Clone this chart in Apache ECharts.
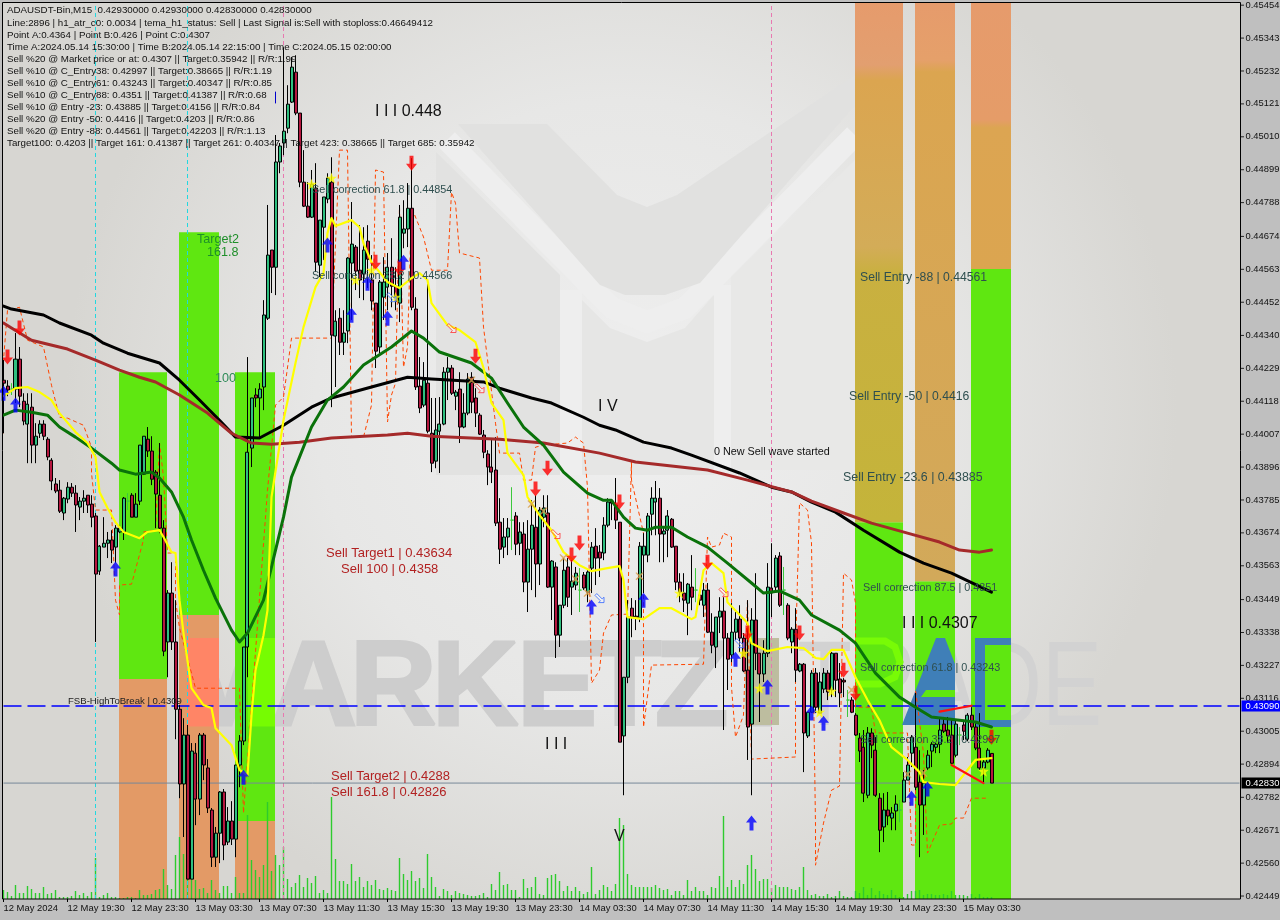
<!DOCTYPE html>
<html><head><meta charset="utf-8">
<script src="https://cdn.jsdelivr.net/npm/echarts@6/dist/echarts.min.js"></script>
<style>html,body{margin:0;padding:0;background:#bfbfbf}#c{width:1280px;height:920px}</style>
</head><body><div id="c"></div>
<script>
// All prices below are in points of 0.00001. Candle rows: [open, close, low, high]
const candlesA=[[44189,44179,44010,44257],[44169,44156,44135,44189],[44159,44159,44139,44179],[44159,44260,44112,44348],[44260,44135,44098,44301],[44118,44051,44037,44145],[44041,44108,43909,44145],[44098,43970,43909,44145],[43970,44000,43909,44044],[44010,44041,43994,44054],[44041,44000,43987,44054],[43990,43930,43919,43997],[43919,43849,43818,43926],[43839,43815,43808,43859],[43818,43747,43741,43852],[43741,43791,43717,43795],[43788,43828,43774,43845],[43828,43808,43795,43842],[43808,43768,43677,43835],[43761,43781,43717,43795],[43781,43791,43741,43818],[43801,43768,43741,43801],[43771,43727,43693,43801],[43731,43535,43306,43741],[43545,43629,43532,43633],[43626,43639,43626,43727],[43639,43650,43589,43677],[43650,43616,43572,43683],[43626,43690,43572,43700],[43677,43690,43673,43700],[43677,43791,43650,43795],[43781,43781,43751,43808],[43801,43727,43727,43808],[43727,43771,43727,43808],[43781,43970,43768,43970],[43872,44000,43869,44000],[43990,43950,43930,44031],[43950,43855,43835,44000],[43879,43805,43690,43886],[43801,43690,43673,43977],[43690,43275,43258,43717],[43306,43471,43187,43481],[43471,43306,43279,43575],[43306,43079,42978,43447],[43079,42827,42779,43093],[42827,42992,42648,43049],[42992,42506,42506,43026],[42506,42938,42506,42965],[42931,42776,42688,42965],[42776,42992,42722,42999],[42992,42891,42840,42999],[42881,42746,42729,42911],[42739,42580,42547,42746],[42580,42661,42547,42682],[42661,42800,42560,42803],[42800,42621,42570,42810],[42631,42702,42621,42749],[42702,42641,42621,42769],[42641,42891,42580,42891],[42891,42972,42816,42992],[42972,43289,42958,43289],[43289,43946,43187,44267]];
const candlesB=[[43960,44129,43896,44129],[44139,44129,44098,44162],[44129,44159,43997,44179],[44166,44409,44088,44459],[44398,44611,44392,44780],[44628,44570,44483,44628],[44570,44925,44476,45016],[44925,44979,44887,44989],[44989,45029,44948,45312],[45039,45120,45022,45184],[45127,45245,45124,45279],[45228,45090,45083,45285],[45090,44857,44840,45090],[44857,44776,44773,44965],[44776,44739,44736,44857],[44739,44850,44736,44898],[44837,44587,44554,44921],[44577,44729,44537,44729],[44705,44807,44594,44807],[44800,44871,44786,44887],[44857,44341,44098,44941],[44338,44388,44166,44425],[44398,44317,44274,44432],[44317,44348,44274,44425],[44355,44601,44314,44604],[44584,44648,44392,44790],[44638,44557,44493,44645],[44560,44527,44466,44712],[44547,44628,44459,44705],[44658,44597,44500,44712],[44527,44456,44425,44611],[44449,44287,44230,44449],[44301,44520,44280,44527],[44469,44520,44392,44604],[44503,44570,44425,44618],[44570,44506,44435,44668],[44506,44456,44425,44570],[44449,44739,44385,44780],[44685,44699,44634,44796],[44699,44769,44638,44854],[44769,44435,44425,44938],[44429,44166,44156,44469],[44169,44095,44078,44267],[44105,44189,44098,44250],[44179,44017,44010,44516],[44010,43909,43879,44129],[43916,44021,43892,44129],[44017,44041,43876,44132],[44041,44216,44037,44233],[44216,44230,44122,44267],[44230,44145,44139,44240],[44135,44149,44088,44156],[44159,44031,43977,44216],[44031,44078,44027,44145],[44078,44193,44071,44213],[44199,44115,44078,44216],[44129,44078,44031,44162],[44071,44007,44004,44078],[44004,43946,43926,44021],[43940,43896,43835,43953],[43896,43879,43842,43994],[43886,43707,43697,43997]];
const candlesC=[[43710,43619,43569,43791],[43626,43660,43589,43724],[43660,43690,43599,43724],[43717,43717,43616,43828],[43731,43636,43599,43744],[43639,43677,43599,43710],[43670,43508,43474,43710],[43508,43619,43407,43717],[43619,43700,43481,43784],[43693,43569,43457,43801],[43569,43751,43498,43761],[43727,43758,43693,43801],[43741,43491,43488,43801],[43491,43579,43380,43582],[43559,43329,43252,43575],[43329,43430,43289,43430],[43430,43548,43420,43589],[43559,43457,43424,43589],[43491,43511,43397,43582],[43498,43538,43481,43559],[43481,43481,43407,43555],[43532,43488,43481,43542],[43474,43542,43440,43548],[43555,43626,43471,43643],[43629,43589,43498,43690],[43609,43589,43525,43633],[43606,43700,43582,43727],[43700,43778,43693,43791],[43781,43774,43717,43784],[43768,43717,43687,43859],[43710,42968,42968,43710],[42989,43187,42789,43187],[43187,43390,43167,43447],[43420,43390,43322,43454],[43393,43387,43346,43447],[43387,43629,43373,43643],[43599,43629,43471,43673],[43599,43731,43575,43741],[43737,43791,43666,43828],[43778,43791,43666,43849],[43791,43670,43575,43825],[43670,43680,43575,43693],[43683,43731,43592,43751],[43720,43626,43623,43724],[43629,43508,43481,43629],[43508,43474,43440,43538],[43471,43447,43407,43538],[43437,43501,43329,43505],[43491,43457,43413,43599],[43481,43481,43440,43555],[43464,43447,43430,43471],[43430,43481,43390,43505],[43481,43339,43336,43505],[43339,43295,43268,43403],[43289,43390,43218,43390],[43390,43410,43336,43457],[43410,43319,43009,43457],[43319,43248,43144,43336],[43262,43339,43238,43437],[43339,43383,43312,43407],[43383,43319,43272,43430],[43319,43208,43204,43336]];
const candlesD=[[43211,43019,42908,43447],[43029,43380,42789,43420],[43380,43268,43211,43538],[43268,43198,43036,43268],[43198,43268,43171,43312],[43268,43491,43255,43572],[43488,43471,43390,43639],[43491,43589,43481,43599],[43596,43430,43424,43609],[43481,43481,43397,43559],[43430,43319,43312,43437],[43306,43349,43268,43356],[43349,43211,43171,43420],[43208,43231,43204,43235],[43231,42999,42867,43235],[42989,43069,42982,43069],[43069,43201,43066,43211],[43201,43086,43066,43218],[43066,43171,43066,43204],[43147,43201,43134,43218],[43201,43137,43110,43211],[43144,43268,43120,43272],[43268,43177,43120,43268],[43181,43134,43086,43235],[43177,43171,43120,43184],[43110,43110,43053,43144],[43110,43069,43066,43120],[43059,42992,42989,43066],[42982,42938,42901,42999],[42951,42796,42766,43009],[42789,42999,42779,43019],[42999,42958,42914,43015],[42941,42789,42783,42985],[42779,42671,42597,42796],[42682,42739,42631,42796],[42739,42719,42688,42800],[42712,42729,42671,42749],[42736,42759,42671,42789],[42739,42739,42698,42773],[42766,42840,42766,42867],[42840,42891,42840,42918],[42931,42985,42884,42992],[42951,42816,42806,43134],[42833,42756,42580,42941],[42756,42830,42655,42874],[42881,42924,42874,42941],[42938,42961,42884,42968],[42951,42961,42931,42965],[42961,43009,42931,43053],[43029,43005,42999,43053],[43009,42989,42965,43053],[42992,42897,42891,43042],[42924,43029,42917,43042],[42992,42992,42958,43019],[43026,43005,42975,43042],[42978,43059,42971,43066],[43059,43019,43009,43086],[43019,42948,42941,43032],[42948,42881,42874,43066],[42881,42901,42830,42908],[42901,42941,42897,42948],[42930,42830,42830,42930]];
const dojiCandles=[2,31,127,144,173,195,211,224,239];
const volumes=[9,7,3,14,6,6,13,10,6,6,12,5,6,9,2,2,2,3,8,4,6,3,7,41,2,4,6,2,2,1,1,2,2,1,9,4,4,5,9,10,30,14,10,44,62,45,43,24,19,10,11,6,19,9,6,13,13,6,22,6,6,84,39,29,22,34,97,28,44,34,52,20,12,16,24,12,21,16,23,6,9,6,102,40,18,18,15,35,18,22,12,18,14,19,10,9,11,9,8,41,25,19,28,18,21,11,45,22,12,3,10,8,4,8,6,5,4,3,3,4,6,2,15,9,27,14,15,9,9,2,20,11,12,22,5,4,21,24,25,18,8,13,8,12,8,5,7,32,5,9,14,12,8,15,81,74,25,14,12,12,12,12,12,14,11,9,10,4,8,8,4,19,8,12,8,8,4,12,11,23,83,12,19,12,19,15,34,44,30,18,20,20,11,14,12,12,12,10,9,12,32,9,4,5,3,3,5,2,3,8,3,2,2,8,6,12,4,11,4,8,5,4,9,4,2,2,5,8,8,9,4,5,5,4,4,5,4,8,4,4,4,3,5,2,5,2,2,2];
const yellowLine=[[0,44135],[3,44162],[6,44166],[9,44149],[12,44122],[14,44078],[18,44014],[21,43977],[23,43930],[24,43812],[26,43758],[28,43710],[30,43677],[34,43656],[36,43677],[39,43683],[40,43660],[42,43609],[43,43606],[44,43447],[45,43336],[47,43150],[50,43093],[52,43083],[53,43015],[57,42958],[59,42874],[61,42857],[62,43059],[63,43211],[65,43329],[66,43413],[67,43795],[70,44054],[73,44247],[75,44368],[78,44503],[80,44550],[81,44685],[82,44736],[83,44709],[87,44729],[89,44705],[90,44651],[92,44587],[96,44520],[99,44500],[102,44533],[104,44550],[106,44527],[107,44449],[111,44375],[114,44358],[118,44317],[120,44230],[122,44112],[125,44054],[126,43943],[130,43869],[131,43795],[134,43734],[137,43683],[140,43609],[144,43565],[147,43545],[151,43555],[154,43562],[155,43515],[156,43390],[160,43383],[164,43420],[167,43420],[172,43383],[173,43390],[175,43548],[177,43572],[180,43538],[181,43440],[186,43370],[187,43302],[191,43275],[196,43289],[200,43285],[203,43252],[205,43248],[207,43279],[210,43279],[213,43187],[216,43110],[219,43042],[222,42951],[226,42908],[229,42867],[230,42833],[234,42827],[238,42823],[241,42874],[243,42908],[247,42914]];
const greenLine=[[0,44071],[3,44088],[7,44081],[11,44071],[14,44031],[18,43997],[22,43960],[27,43909],[29,43886],[33,43872],[37,43879],[39,43859],[42,43812],[45,43727],[47,43650],[50,43548],[53,43454],[57,43346],[59,43306],[61,43336],[65,43447],[67,43559],[70,43727],[72,43862],[77,44031],[81,44122],[85,44166],[90,44240],[97,44301],[102,44355],[105,44331],[109,44284],[117,44247],[122,44196],[126,44112],[130,44031],[135,43970],[140,43879],[146,43808],[150,43784],[152,43784],[155,43727],[158,43690],[161,43683],[163,43693],[167,43693],[171,43660],[176,43626],[181,43572],[187,43505],[190,43471],[194,43478],[199,43447],[202,43397],[209,43346],[213,43302],[218,43201],[224,43120],[228,43086],[232,43053],[239,43042],[243,43036],[247,43019]];
const blackLine=[[0,44439],[2,44429],[10,44409],[14,44382],[22,44341],[25,44314],[31,44280],[39,44247],[44,44189],[49,44122],[54,44054],[58,43997],[64,43994],[70,44037],[77,44098],[82,44129],[92,44166],[101,44199],[107,44193],[120,44183],[124,44162],[132,44129],[137,44112],[145,44064],[149,44037],[153,44021],[160,43980],[167,43960],[172,43936],[184,43876],[192,43828],[197,43812],[202,43778],[208,43744],[215,43683],[224,43609],[230,43572],[237,43538],[247,43474]];
const brownLine=[[0,44382],[2,44365],[7,44324],[16,44294],[23,44257],[29,44223],[34,44199],[38,44183],[44,44139],[51,44078],[57,44010],[62,43977],[67,43973],[74,43980],[82,43994],[96,44004],[101,44010],[107,44000],[124,43990],[135,43977],[149,43943],[158,43913],[176,43886],[186,43852],[197,43812],[202,43781],[210,43741],[217,43707],[226,43673],[234,43643],[239,43616],[244,43609],[247,43616]];
const orangeLine=[[0,44010],[0,44257],[1,44425],[4,44435],[6,44324],[10,44301],[12,44172],[14,44064],[16,44061],[20,44037],[22,43963],[22,43876],[23,43751],[27,43751],[28,43447],[29,43397],[29,43498],[32,43501],[35,43650],[35,43677],[38,43683],[39,43977],[40,43862],[41,43606],[43,43606],[43,43447],[44,43353],[48,43150],[59,43150],[60,42729],[64,43454],[66,43818],[68,44105],[70,44132],[72,44331],[82,44331],[84,44965],[86,44965],[87,43997],[90,43997],[92,44105],[93,44898],[95,44891],[96,44048],[97,44139],[98,44179],[99,44773],[100,44233],[101,44301],[102,44773],[105,44672],[107,44560],[111,44560],[112,44823],[113,44786],[114,44618],[119,44601],[120,44368],[123,44044],[124,43943],[129,43943],[130,43852],[132,43852],[133,43963],[135,43970],[141,43977],[143,43997],[145,43977],[146,43828],[147,43167],[149,43211],[150,43336],[152,43397],[156,43400],[157,43919],[157,43852],[160,43673],[160,43086],[160,43019],[162,43228],[175,43231],[176,43660],[177,43626],[179,43633],[180,43673],[182,43660],[182,43154],[183,42985],[185,43059],[186,43447],[187,42911],[198,42918],[198,43268],[199,43775],[201,43751],[202,43640],[203,42688],[203,42553],[205,42695],[207,42806],[209,42820],[210,43538],[212,43515],[213,43437],[213,43086],[217,43086],[218,42999],[226,42999],[227,42621],[228,42621],[228,43144],[230,42931],[231,42594],[234,42688],[237,42692],[238,42712],[240,42712],[242,42779],[246,42779]];
const redTrendA=[[234,43071],[242,43091]];
const redTrendB=[[237,42891],[245,42830]];
const blueTick=[[68,45161],[68,45124]];
const sellArrows=[[1,44267],[4,44365],[93,44587],[99,44567],[102,44921],[118,44270],[136,43892],[133,43822],[144,43640],[142,43599],[154,43778],[176,43575],[186,43336],[199,43336],[210,43211],[213,43133],[247,42985]];
const buyArrows=[[0,44145],[3,44105],[28,43552],[60,42850],[81,44645],[91,44516],[87,44408],[96,44398],[100,44587],[147,43424],[160,43447],[183,43248],[191,43154],[187,42695],[202,43066],[205,43032],[227,42779],[231,42810]];
const stars=[[77,44850],[82,44871],[88,44527],[92,44560],[98,44469],[169,43471],[185,43268],[189,43150],[204,43069],[207,43140],[245,42870]];
const crosses=[[132,43771],[135,43747],[140,43589],[143,43518],[146,43471],[159,43528],[117,44189],[212,43144],[226,42860],[230,42864]];
const hollowSell=[[112,44365],[119,44162],[138,43670],[180,43474]];
const hollowBuy=[[149,43454],[184,43302],[97,44469]];
// Zones: [first bar edge, last bar edge, top price, bottom price]
const greenZones=[[29.375,41.375,44216,43181],[44.375,54.375,44688,43397],[58.375,68.375,44216,42702],[213.375,225.375,43710,42439],[228.375,238.375,43511,42439],[242.375,252.375,44564,42439]];
const orangeZones=[[29.375,41.375,43181,42439],[44.375,54.375,43397,42439],[58.375,68.375,42702,42439]];
const upperZones=[[213.375,225.375,45463,43710],[228.375,238.375,45463,43511],[242.375,252.375,45463,44564]];
const accentZones=[[46.375,54.375,43319,43021],[61.625,68.375,43319,43021],[185.875,194.375,43319,43026]];
const priceTicks=[0.45454,0.45343,0.45232,0.45121,0.4501,0.44899,0.44788,0.44674,0.44563,0.44452,0.4434,0.44229,0.44118,0.44007,0.43896,0.43785,0.43674,0.43563,0.43449,0.43338,0.43227,0.43116,0.43005,0.42894,0.42782,0.42671,0.4256,0.42449];
const timeTicks=['12 May 2024','12 May 19:30','12 May 23:30','13 May 03:30','13 May 07:30','13 May 11:30','13 May 15:30','13 May 19:30','13 May 23:30','14 May 03:30','14 May 07:30','14 May 11:30','14 May 15:30','14 May 19:30','14 May 23:30','15 May 03:30'];
const infoLines=['ADAUSDT-Bin,M15  0.42930000 0.42930000 0.42830000 0.42830000','Line:2896 | h1_atr_c0: 0.0034 | tema_h1_status: Sell | Last Signal is:Sell with stoploss:0.46649412','Point A:0.4364 | Point B:0.426 | Point C:0.4307','Time A:2024.05.14 15:30:00 | Time B:2024.05.14 22:15:00 | Time C:2024.05.15 02:00:00','Sell %20 @ Market price or at: 0.4307 || Target:0.35942 || R/R:1.99','Sell %10 @ C_Entry38: 0.42997 || Target:0.38665 || R/R:1.19','Sell %10 @ C_Entry61: 0.43243 || Target:0.40347 || R/R:0.85','Sell %10 @ C_Entry88: 0.4351 || Target:0.41387 || R/R:0.68','Sell %10 @ Entry -23: 0.43885 || Target:0.4156 || R/R:0.84','Sell %20 @ Entry -50: 0.4416 || Target:0.4203 || R/R:0.86','Sell %20 @ Entry -88: 0.44561 || Target:0.42203 || R/R:1.13','Target100: 0.4203 || Target 161: 0.41387 || Target 261: 0.40347 || Target 423: 0.38665 || Target 685: 0.35942'];
const FSB_PRICE=0.4309, LAST_PRICE=0.4283;
const priceLineEnds=[0,309];
const notes=[['I I I 0.448',375,112,16,'#111'],['I V',598,407,16,'#111'],['I I I',545,745,16,'#111'],['V',614,837,16,'#111'],['I I I 0.4307',902,624,16,'#111'],['0 New Sell wave started',714,452,10.8,'#111'],
['Sell Target1 | 0.43634',326,553,13,'#b22222'],['Sell 100 | 0.4358',341,569,13,'#b22222'],['Sell Target2 | 0.4288',331,776,13,'#b22222'],['Sell 161.8 | 0.42826',331,792,13,'#b22222'],
['Target2',197,240,12.6,'#1f8f2a'],['161.8',207,253,12.6,'#1f8f2a'],['100',215,379,12.6,'#2e8b57'],['FSB-HighToBreak | 0.4309',68,701,9.6,'#222'],
['Sell correction 61.8 | 0.44854',312,190,10.8,'#2f4f4f'],['Sell correction 38.2 | 0.44566',312,276,10.8,'#2f4f4f'],['Sell Entry -88 | 0.44561',860,278,12.2,'#2f4f4f'],['Sell Entry -50 | 0.4416',849,397,12.2,'#2f4f4f'],['Sell Entry -23.6 | 0.43885',843,478,12.4,'#2f4f4f'],['Sell correction 87.5 | 0.4351',863,588,10.8,'#2f4f4f'],['Sell correction 61.8 | 0.43243',860,668,10.8,'#2f4f4f'],['Sell correction 38.2 | 0.42997',860,740,10.8,'#2f4f4f']];
const brandLetters=[['M',175],['A',270],['R',350],['K',432],['E',517],['T',588],['Z',655],['I',745]];
const cyanMarkers=[23.5,46.5];
const pinkMarkers=[70.5,192.5];

const p=v=>v/1e5;
const pts=a=>a.map(d=>[d[0],p(d[1])]);
const candleRows=[...candlesA,...candlesB,...candlesC,...candlesD];
const BAR_SLOTS=310;
const cats=Array.from({length:BAR_SLOTS},(_,i)=>String(i));
const UI='"Liberation Sans",Arial,sans-serif';
const showTick=i=>i%16===0&&i/16<timeTicks.length;
const candleData=candleRows.map((r,i)=>{const v=r.map(p);return dojiCandles.includes(i)?{value:v,itemStyle:{borderColor:'#3cc83c',borderColor0:'#3cc83c'}}:v;});
const UP='path://M5 0 L10 6.5 L6.8 6.5 L6.8 14 L3.2 14 L3.2 6.5 L0 6.5 Z';
const DOWN='path://M5 14 L10 7.5 L6.8 7.5 L6.8 0 L3.2 0 L3.2 7.5 L0 7.5 Z';
const STAR='path://M5 0 L6.2 3.6 L10 3.6 L7 5.9 L8.1 9.6 L5 7.4 L1.9 9.6 L3 5.9 L0 3.6 L3.8 3.6 Z';
const CROSS='path://M1 0 L5 3.2 L9 0 L10 1 L6.3 5 L10 9 L9 10 L5 6.8 L1 10 L0 9 L3.7 5 L0 1 Z';
const HOLLOW='path://M0 2 L2 0 L8 6 L10 4 L10 10 L4 10 L6 8 Z';

const poly=(points,fill,z)=>({type:'polygon',silent:true,z,shape:{points},style:{fill}});
const band=(points,w)=>({type:'polyline',silent:true,z:0.05,shape:{points},style:{fill:'none',stroke:'#eeeeee',lineWidth:w}});
const background=[
 {type:'rect',silent:true,z:0,shape:{x:2,y:2.5,width:1238.6,height:896.5},style:{fill:{type:'radial',x:0.5,y:0.45,r:0.62,colorStops:[{offset:0,color:'#efefef'},{offset:0.55,color:'#e7e7e6'},{offset:1,color:'#d7d6d2'}]}}},
 band([[447,140],[612,308],[647,322],[685,308],[855,135]],22),
 band([[571,290],[571,475]],22),
 band([[722,285],[722,470]],18),
 poly([[436,152],[560,275],[560,475],[436,475]],'#e2e2e1',0.1),
 poly([[582,300],[610,328],[647,342],[685,328],[714,295],[714,475],[582,475]],'#e6e6e5',0.1),
 poly([[731,277],[855,160],[855,470],[731,470]],'#e8e8e7',0.1),
 poly([[458,124],[547,124],[617,195],[647,207],[677,195],[855,75],[855,105],[700,283],[665,295],[625,295],[600,285]],'#e1e1e0',0.1),
 ...brandLetters.map(l=>({type:'text',silent:true,z:0.2,x:l[1],y:752,style:{text:l[0],font:'bold 120px "Liberation Sans"',fill:'#cdcdcd',stroke:'#cdcdcd',lineWidth:3,verticalAlign:'bottom'}})),
 {type:'text',silent:true,z:0.2,x:797,y:752,scaleX:0.75,style:{text:'TRADE',font:'120px "Liberation Sans"',fill:'#d2d2d2',verticalAlign:'bottom'}},
 poly([[945,638],[955,664],[955,690],[926,690],[921,697],[955,697],[955,725],[902,725],[936,638]],'#3f7fb8',1.5),
 poly([[975,638],[1011,638],[1011,645],[985,645],[985,720],[1011,720],[1011,727],[975,727]],'#3f7fb8',1.5),
 {type:'polyline',silent:true,z:1.5,shape:{points:[[855,641],[885,641],[895,647],[900,662],[895,677],[880,684],[855,684]]},style:{fill:'none',stroke:'#78fb06',lineWidth:7}}
];
const frame={type:'rect',silent:true,z:30,shape:{x:2.5,y:2.5,width:1238,height:896.5},style:{fill:'none',stroke:'#000',lineWidth:1}};
const textEls=[...infoLines.map((t,i)=>({type:'text',silent:true,z:20,style:{text:t,x:7,y:10.5+(i===0?0:1+12*i),font:'9.75px '+UI,fill:'#111',verticalAlign:'middle'}})),
 ...notes.map(n=>({type:'text',silent:true,z:20,style:{text:n[0],x:n[1],y:n[2],font:n[3]+'px '+UI,fill:n[4],verticalAlign:'middle'}}))];

function zoneItem(colorFn){return (params,api)=>{const a=api.coord([api.value(0),api.value(2)]),b=api.coord([api.value(1),api.value(3)]);return {type:'rect',shape:{x:a[0],y:a[1],width:b[0]-a[0],height:b[1]-a[1]},style:{fill:colorFn(params.dataIndex)}};};}
const vg=s=>new echarts.graphic.LinearGradient(0,0,0,1,s.map(([offset,color])=>({offset,color})));
const upperFills=[vg([[0,'#e69b6c'],[0.12,'#e29f70'],[0.15,'#dba550'],[0.47,'#d3ac58'],[0.52,'#c9b040'],[1,'#c4b43a']]),vg([[0,'#e69b6c'],[0.1,'#e5a06a'],[0.12,'#dba550'],[1,'#d2a95a']]),vg([[0,'#e69b6c'],[0.44,'#e59c68'],[0.47,'#dca552'],[1,'#dba550']])];
const accentFills=['#ff8566','#76fc02','#bdbd9f'];
const zone=(data,fn)=>({type:'custom',xAxisIndex:1,yAxisIndex:0,z:1,silent:true,clip:true,renderItem:zoneItem(fn),encode:{x:[0,1],y:[2,3]},data:data.map(d=>[d[0],d[1],p(d[2]),p(d[3])])});
const mkLine=(data,color,width,extra)=>Object.assign({type:'line',data:pts(data),showSymbol:false,symbol:'none',silent:true,z:4,smooth:false,lineStyle:{color,width,cap:'round',join:'round'}},extra||{});
const mkMark=(data,symbol,size,style,z)=>({type:'scatter',data:pts(data),symbol,symbolSize:size,itemStyle:style,silent:true,z:z||6});
const priceLine=(price,color,type,width,tag)=>({type:'line',data:priceLineEnds.map(x=>[x,price]),showSymbol:false,symbol:'none',silent:true,z:2.5,clip:false,
  lineStyle:{color,type,width},
  endLabel:{show:true,distance:2,formatter:()=>price.toFixed(5),color:'#fff',backgroundColor:tag,padding:[1,4,1,4],fontFamily:UI,fontSize:9.4}});
// Vertical session markers: one series per colour, drawn along the top-to-bottom price range.
const sessionLines=(xs,color)=>xs.map(x=>({type:'line',xAxisIndex:1,yAxisIndex:0,data:[[x,0.42439],[x,0.45463]],showSymbol:false,symbol:'none',silent:true,z:2.5,itemStyle:{color},lineStyle:{color,width:1,type:[4,3]}}));

const option={
 backgroundColor:'#bfbfbf',animation:false,
 grid:{left:1.5,top:2.5,width:1240,height:896.5,containLabel:false,outerBoundsMode:'none'},
 xAxis:[
  {type:'category',data:cats,boundaryGap:true,
   axisLine:{show:false},
   axisTick:{show:true,alignWithLabel:true,length:3,interval:i=>showTick(i),lineStyle:{color:'#000'}},
   axisLabel:{interval:i=>showTick(i),align:'left',margin:5,fontFamily:UI,fontSize:9.45,color:'#111',formatter:(v,i)=>timeTicks[Number(v)/16]||''},splitLine:{show:false}},
  {type:'value',min:0,max:310,show:false,axisLine:{show:false},axisTick:{show:false},axisLabel:{show:false},splitLine:{show:false}}
 ],
 yAxis:[
  {type:'value',position:'right',offset:-1,min:0.42439,max:0.45463,scale:true,splitLine:{show:false},
   axisLine:{show:false},
   axisTick:{show:false},
   axisLabel:{customValues:priceTicks,margin:5,fontFamily:UI,fontSize:9.4,color:'#111',formatter:v=>v.toFixed(5)}},
  {type:'value',min:0,max:896.5,show:false,position:'right',axisLine:{show:false},axisTick:{show:false},axisLabel:{show:false},splitLine:{show:false}}
 ],
 graphic:{elements:[...background,frame,...textEls]},
 series:[
  zone(greenZones,()=>'#5fe711'),
  zone(orangeZones,()=>'#e39a66'),
  zone(upperZones,i=>upperFills[i]),
  zone(accentZones,i=>accentFills[i]),
  ...sessionLines(cyanMarkers,'#22d8e0'),
  ...sessionLines(pinkMarkers,'#e878b0'),
  {type:'bar',xAxisIndex:0,yAxisIndex:1,data:volumes,barWidth:1.4,z:2,silent:true,itemStyle:{color:'#2ecb2e',borderWidth:0,opacity:1}},
  mkLine(orangeLine,'#ff4500',1,{z:3,lineStyle:{color:'#ff4500',width:1,type:[4,3]}}),
  {type:'candlestick',data:candleData,barWidth:3.5,z:3.5,silent:true,itemStyle:{color:'#2fbf7f',color0:'#b5173f',borderColor:'#000',borderColor0:'#000',borderWidth:1}},
  mkLine(blackLine,'#000',3),
  mkLine(brownLine,'#a52a2a',3),
  mkLine(greenLine,'#0a720a',3),
  mkLine(yellowLine,'#ffff00',2.2),
  mkLine(redTrendA,'#ff1010',2.2),
  mkLine(redTrendB,'#ff1010',2.2),
  mkLine(blueTick,'#0000cc',1),
  mkMark(sellArrows,DOWN,[11,15],{color:'#ff0000'}),
  mkMark(buyArrows,UP,[11,15],{color:'#0000ff'}),
  mkMark(stars,STAR,[11,11],{color:'#ffff00'}),
  mkMark(crosses,CROSS,[8,8],{color:'#d9a04c'}),
  mkMark(hollowSell,HOLLOW,[9,9],{color:'rgba(255,255,255,0.5)',borderColor:'#f33',borderWidth:1}),
  mkMark(hollowBuy,HOLLOW,[9,9],{color:'rgba(255,255,255,0.5)',borderColor:'#36f',borderWidth:1}),
  priceLine(FSB_PRICE,'#0000ff',[18,6],1.3,'#0000ff'),
  priceLine(LAST_PRICE,'#778899','solid',1,'#000'),
  {type:'scatter',xAxisIndex:1,yAxisIndex:0,data:priceTicks.map(t=>[310.25,t]),symbol:'rect',symbolSize:[3,1],clip:false,silent:true,z:31,itemStyle:{color:'#000'}}
 ]
};
echarts.init(document.getElementById('c'),null,{renderer:'canvas',width:1280,height:920}).setOption(option);
</script></body></html>
